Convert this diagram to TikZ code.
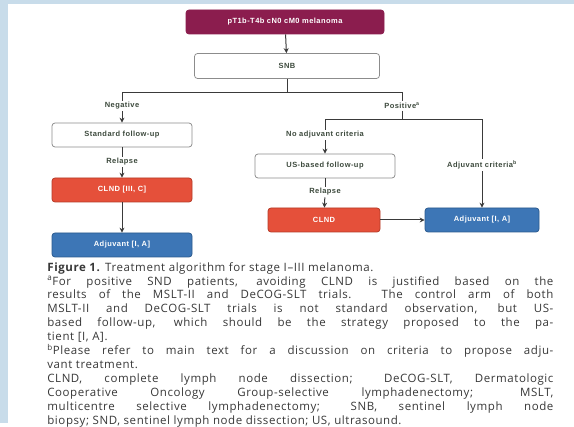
\documentclass[tikz,border=0pt]{standalone}
\usepackage{fontspec}
\setsansfont{Open Sans}[LetterSpace=5]
\newfontfamily\chartfont[LetterSpace=6]{Liberation Sans}
\usetikzlibrary{arrows.meta}

\definecolor{pageblue}{HTML}{C8DCEA}
\definecolor{wine}{HTML}{8B1D4E}
\definecolor{clndred}{HTML}{E5503A}
\definecolor{clndedge}{HTML}{B53A27}
\definecolor{adjblue}{HTML}{3D76B6}
\definecolor{adjedge}{HTML}{2B5A8E}
\definecolor{boxedge}{HTML}{8C8C8C}
\definecolor{labelink}{HTML}{3D4A3D}
\definecolor{lineink}{HTML}{3A3A3A}
\definecolor{captionink}{HTML}{383838}

\tikzset{every picture/.style={line width=0.75pt}}

\begin{document}
\begin{tikzpicture}[x=1pt,y=1pt,yscale=-1,xscale=1,
  chart/.style={font=\chartfont\bfseries\fontsize{7.5}{9}\selectfont},
  whitebox/.style={chart, draw=boxedge, fill=white, text=labelink, rounded corners=3pt, minimum width=140pt, minimum height=24pt, inner sep=0pt},
  redbox/.style={whitebox, draw=clndedge, fill=clndred, text=white},
  bluebox/.style={whitebox, draw=adjedge, fill=adjblue, text=white},
  steplabel/.style={chart, text=labelink, fill=white, inner sep=1.5pt},
  link/.style={draw=lineink, line width=1pt},
  arrowlink/.style={link, -{Stealth[length=5pt,width=5pt]}}]

%Shape: page background
\fill [pageblue] (0,0) rectangle (574,423);
\fill [white] (8,4) rectangle (574,423);

%Shape: top boxes
\node [whitebox, draw=wine, fill=wine, text=white, minimum width=198pt] (melanoma) at (285,22) {pT1b-T4b cN0 cM0 melanoma};
\node [whitebox, minimum width=185pt, minimum height=25pt] (snb) at (287,66) {SNB};
\coordinate (split) at (287,93);

%Shape: negative branch
\node [steplabel] (negative) at (122,106) {Negative};
\node [whitebox] (stdfollow) at (122,135) {Standard follow-up};
\node [steplabel] (relapseL) at (122,162) {Relapse};
\node [redbox] (clndL) at (122,190) {CLND [III, C]};
\node [bluebox] (adjL) at (122,245) {Adjuvant [I, A]};

%Shape: positive branch
\node [steplabel] (positive) at (402,106) {Positive\textsuperscript{a}};
\coordinate (posjoin) at (402,120);
\node [steplabel] (noadj) at (325,135) {No adjuvant criteria};
\node [whitebox] (usfollow) at (325,166) {US-based follow-up};
\node [steplabel] (relapseR) at (325,192) {Relapse};
\node [redbox, minimum width=112pt] (clndR) at (324,220) {CLND};
\node [bluebox, minimum width=114pt] (adjR) at (482,220) {Adjuvant [I, A]};

%Straight Lines
\draw [arrowlink] (melanoma) -- (snb);
\draw [link] (snb) -- (split);
\draw [link] (split) -| (negative.north);
\draw [link] (split) -| (positive.north);
\draw [arrowlink] (negative) -- (stdfollow);
\draw [link] (stdfollow) -- (relapseL);
\draw [arrowlink] (relapseL) -- (clndL);
\draw [arrowlink] (clndL) -- (adjL);
\draw [link] (positive) -- (posjoin);
\draw [link] (posjoin) -| (noadj.north);
\draw [arrowlink] (posjoin) -| (adjR.north);
\draw [arrowlink] (noadj) -- (usfollow);
\draw [link] (usfollow) -- (relapseR);
\draw [arrowlink] (relapseR) -- (clndR);
\draw [arrowlink] (clndR) -- (adjR);

% Text Node
\node [steplabel] (adjcrit) at (482,165) {Adjuvant criteria\textsuperscript{b}};

% Text Node
\node [anchor=north west, inner sep=0pt, text width=506pt, align=justify, text=captionink,
  font=\sffamily\fontsize{11.5}{13.9}\selectfont] (caption) at (47,262) {%
\setlength{\parindent}{0pt}\tolerance=9999\hbadness=10000
\textbf{Figure 1.} Treatment algorithm for stage I--III melanoma.\par
\textsuperscript{a}For positive SND patients, avoiding CLND is justified based on the\linebreak
results of the MSLT-II and DeCOG-SLT trials. The control arm of both\linebreak
MSLT-II and DeCOG-SLT trials is not standard observation, but US-\linebreak
based follow-up, which should be the strategy proposed to the pa-\linebreak
tient [I, A].\par
\textsuperscript{b}Please refer to main text for a discussion on criteria to propose adju-\linebreak
vant treatment.\par
CLND, complete lymph node dissection; DeCOG-SLT, Dermatologic\linebreak
Cooperative Oncology Group-selective lymphadenectomy; MSLT,\linebreak
multicentre selective lymphadenectomy; SNB, sentinel lymph node\linebreak
biopsy; SND, sentinel lymph node dissection; US, ultrasound.};

\end{tikzpicture}
\end{document}
